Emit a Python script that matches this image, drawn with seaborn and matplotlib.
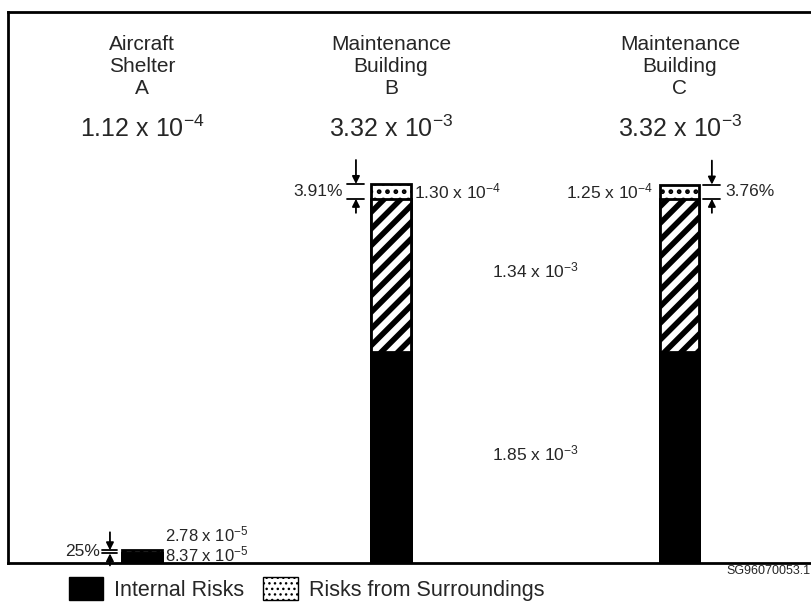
import matplotlib
matplotlib.use("Agg")
import pandas as pd
import seaborn as sns
from matplotlib import pyplot as plt
from matplotlib.patches import Patch

# data
buildings = ["Aircraft\nShelter\nA", "Maintenance\nBuilding\nB", "Maintenance\nBuilding\nC"]
total_risk = [1.12e-4, 3.32e-3, 3.32e-3]
internal_solid = [8.37e-5, 1.85e-3, 1.85e-3]
internal_hatched = [0.0, 1.34e-3, 1.34e-3]
surroundings = [2.78e-5, 1.30e-4, 1.25e-4]
surround_share = ["25%", "3.91%", "3.76%"]

# layout
xpos = [0.0, 1.0, 2.16]
bar_w = 0.157
px_x = 1 / 249.0
ytop = 3.32e-3 * 551 / 379
px_y = ytop / 551.0
FONT = "Liberation Sans"


def sci(v):
    exp = int(f"{v:.2e}".split("e")[1])
    return f"{v / 10 ** exp:.2f} x 10$^{{{exp}}}$"


def ypx(py):
    # pixel row in the picture -> data y
    return (563 - py) * px_y


sns.set_style("white")
plt.rcParams["font.family"] = [FONT, "DejaVu Sans"]
plt.rcParams["mathtext.fontset"] = "custom"
plt.rcParams["mathtext.rm"] = FONT
plt.rcParams["mathtext.it"] = FONT
plt.rcParams["mathtext.bf"] = FONT

df = pd.DataFrame({
    "pos": xpos,
    "base": internal_solid,
    "mid": [a + b for a, b in zip(internal_solid, internal_hatched)],
    "top": [a + b + c for a, b, c in zip(internal_solid, internal_hatched, surroundings)],
})

fig = plt.figure(figsize=(8.12, 6.09), dpi=100)
ax = fig.add_axes([8 / 812, 46 / 609, 806 / 812, 551 / 609])


def layer(col, face, hatch, hlw):
    n0 = len(ax.patches)
    with plt.rc_context({"hatch.linewidth": hlw}):
        sns.barplot(data=df, x="pos", y=col, native_scale=True, orient="x",
                    width=bar_w, color=face, edgecolor="black", linewidth=2,
                    hatch=hatch, saturation=1, errorbar=None, ax=ax)
    for p in ax.patches[n0:]:
        if hasattr(p, "set_hatch_linewidth"):
            p.set_hatch_linewidth(hlw)


layer("top", "white", "..", 2.2)
layer("mid", "white", "//", 4.0)
layer("base", "black", None, 1.0)

ax.set_xlim(-(142 - 8) * px_x, (814 - 142) * px_x)
ax.set_ylim(0, ytop)
ax.set_xticks([])
ax.set_yticks([])
ax.set_xlabel("")
ax.set_ylabel("")
for s in ax.spines.values():
    s.set_linewidth(2)
    s.set_color("black")

# headers
for x, name, tot in zip(xpos, buildings, total_risk):
    ax.text(x, ypx(67), name, ha="center", va="center", fontsize=15, linespacing=1.2)
    ax.text(x, ypx(129), sci(tot), ha="center", va="center", fontsize=18)

arrow = dict(arrowstyle="-|>", color="black", lw=1.3, mutation_scale=11,
             shrinkA=0, shrinkB=0)


def share_marker(x0, x1, hi, lo, up_len, dn_len):
    xm = (x0 + x1) / 2
    ax.plot([x0, x1], [hi, hi], color="black", lw=1.3)
    ax.plot([x0, x1], [lo, lo], color="black", lw=1.3)
    ax.annotate("", xy=(xm, hi), xytext=(xm, hi + up_len * px_y), arrowprops=arrow)
    ax.annotate("", xy=(xm, lo), xytext=(xm, lo - dn_len * px_y), arrowprops=arrow)


small = 12.5
half = bar_w / 2

# building B
t, s = df["top"][1], surroundings[1]
share_marker(xpos[1] - half - 24 * px_x, xpos[1] - half - 7 * px_x, t, t - s, 24, 14)
ax.text(xpos[1] - half - 29 * px_x, t - s / 2, surround_share[1], ha="right", va="center", fontsize=small)
ax.text(xpos[1] + half + 3 * px_x, t - s / 2, sci(surroundings[1]), ha="left", va="center", fontsize=small)

# building C
t, s = df["top"][2], surroundings[2]
share_marker(xpos[2] + half + 4 * px_x, xpos[2] + half + 21 * px_x, t, t - s, 24, 14)
ax.text(xpos[2] + half + 26 * px_x, t - s / 2, surround_share[2], ha="left", va="center", fontsize=small)
ax.text(xpos[2] - half - 7 * px_x, t - s / 2, sci(surroundings[2]), ha="right", va="center", fontsize=small)

# shared internal values between B and C
xmid = (xpos[1] + xpos[2]) / 2
ax.text(xmid, internal_solid[1] + internal_hatched[1] / 2 + 5 * px_y, sci(internal_hatched[1]),
        ha="center", va="center", fontsize=small)
ax.text(xmid, internal_solid[1] / 2 + 4 * px_y, sci(internal_solid[1]),
        ha="center", va="center", fontsize=small)

# building A
t, s = df["top"][0], surroundings[0]
share_marker(xpos[0] - half - 20 * px_x, xpos[0] - half - 5 * px_x, t, t - s, 18, 12)
ax.text(xpos[0] - half - 22 * px_x, t - s / 2, surround_share[0], ha="right", va="center", fontsize=small)
ax.text(xpos[0] + half + 3 * px_x, ypx(534), sci(surroundings[0]), ha="left", va="center", fontsize=12)
ax.text(xpos[0] + half + 3 * px_x, ypx(554), sci(internal_solid[0]), ha="left", va="center", fontsize=12)

fig.text(811 / 812, (609 - 571) / 609, "SG96070053.1", ha="right", va="center", fontsize=9)

with plt.rc_context({"hatch.linewidth": 1.6}):
    handles = [
        Patch(facecolor="black", edgecolor="black", label="Internal Risks"),
        Patch(facecolor="white", edgecolor="black", hatch="...", label="Risks from Surroundings"),
    ]
fig.legend(handles=handles, loc="center left", bbox_to_anchor=(60 / 812, (609 - 589) / 609),
           ncol=2, frameon=False, fontsize=15.5, handlelength=1.6, handleheight=1.3,
           handletextpad=0.5, columnspacing=0.9, borderaxespad=0)

fig.savefig("out.png", dpi=100)
